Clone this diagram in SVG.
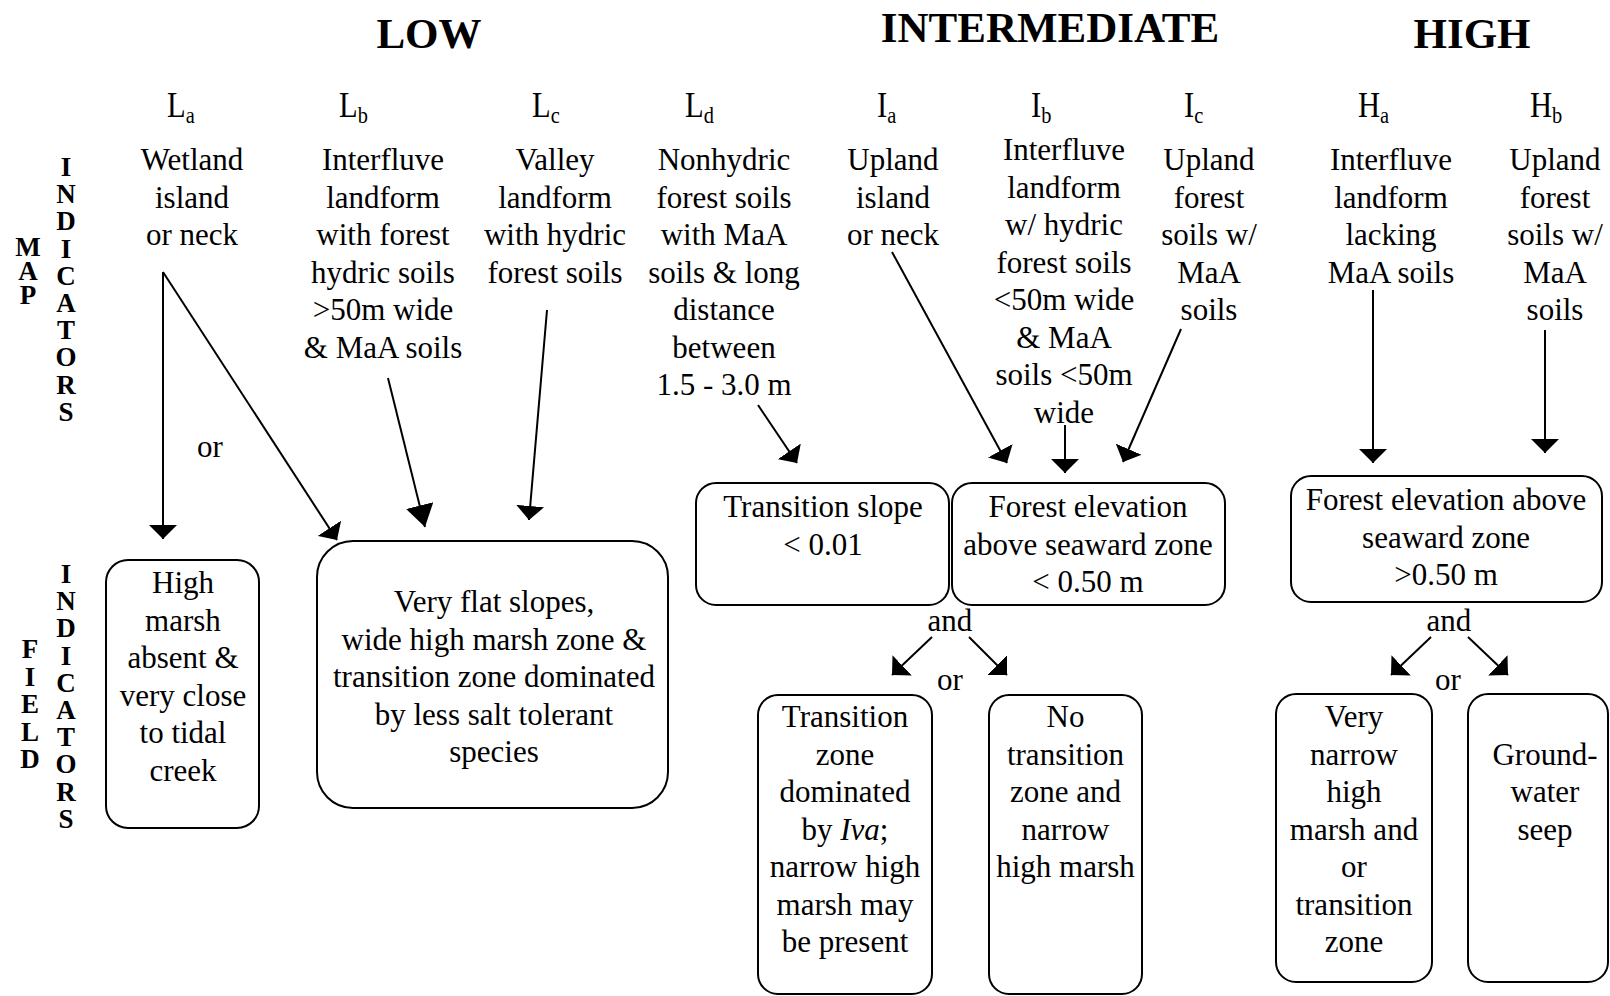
<svg xmlns="http://www.w3.org/2000/svg" width="1610" height="996" viewBox="0 0 1610 996">
  <style>
    text { font-family: "Liberation Serif", "Times New Roman", serif; fill: #000; }
    .t { font-family: "Liberation Serif", "Times New Roman", serif; font-size: 31px; text-anchor: middle; }
    .h { font-size: 43px; font-weight: bold; text-anchor: middle; }
    .v { font-size: 27px; font-weight: bold; text-anchor: middle; }
    .lab { font-size: 36px; }
    .sub { font-size: 24px; }
    .box { fill: #fff; stroke: #000; stroke-width: 2; }
    #connectors line { stroke: #000; stroke-width: 2; fill: none; }
    .a { marker-end: url(#ah); }
    .aL { marker-end: url(#ahL); }
  </style>
  <defs>
    <marker id="ah" markerUnits="userSpaceOnUse" viewBox="0 0 14 28" refX="14" refY="14" markerWidth="14" markerHeight="28" orient="auto">
      <path d="M0,0 L14,14 L0,28 Z" fill="#000"/>
    </marker>
    <marker id="ahL" markerUnits="userSpaceOnUse" viewBox="0 0 22 28" refX="22" refY="14" markerWidth="22" markerHeight="28" orient="auto">
      <path d="M0,0 L22,14 L0,28 Z" fill="#000"/>
    </marker>
  </defs>

  <rect width="1610" height="996" fill="#fff"/>

  <!-- zone headings -->
  <g id="headings">
    <text class="h" x="429" y="48">LOW</text>
    <text class="h" x="1050" y="42">INTERMEDIATE</text>
    <text class="h" x="1472" y="48">HIGH</text>
  </g>

  <!-- side captions, one letter per line -->
  <g id="side-map">
    <text class="v"><tspan x="28" y="256">M</tspan><tspan x="28" y="280">A</tspan><tspan x="28" y="304">P</tspan></text>
    <text class="v"><tspan x="66" y="176">I</tspan><tspan x="66" y="203.2">N</tspan><tspan x="66" y="230.4">D</tspan><tspan x="66" y="257.6">I</tspan><tspan x="66" y="284.8">C</tspan><tspan x="66" y="312">A</tspan><tspan x="66" y="339.2">T</tspan><tspan x="66" y="366.4">O</tspan><tspan x="66" y="393.6">R</tspan><tspan x="66" y="420.8">S</tspan></text>
  </g>
  <g id="side-field">
    <text class="v"><tspan x="30" y="658">F</tspan><tspan x="30" y="685.5">I</tspan><tspan x="30" y="713">E</tspan><tspan x="30" y="740.5">L</tspan><tspan x="30" y="768">D</tspan></text>
    <text class="v"><tspan x="66" y="583">I</tspan><tspan x="66" y="610.2">N</tspan><tspan x="66" y="637.4">D</tspan><tspan x="66" y="664.6">I</tspan><tspan x="66" y="691.8">C</tspan><tspan x="66" y="719">A</tspan><tspan x="66" y="746.2">T</tspan><tspan x="66" y="773.4">O</tspan><tspan x="66" y="800.6">R</tspan><tspan x="66" y="827.8">S</tspan></text>
  </g>

  <!-- map indicator columns -->
  <g id="La">
    <text class="lab" transform="translate(167,117) scale(0.85,1)">L<tspan class="sub" dy="6">a</tspan></text>
    <text class="t"><tspan x="192" y="170">Wetland</tspan><tspan x="192" y="207.5">island</tspan><tspan x="192" y="245">or neck</tspan></text>
  </g>
  <g id="Lb">
    <text class="lab" transform="translate(339,117) scale(0.85,1)">L<tspan class="sub" dy="6">b</tspan></text>
    <text class="t"><tspan x="383" y="170">Interfluve</tspan><tspan x="383" y="207.5">landform</tspan><tspan x="383" y="245">with forest</tspan><tspan x="383" y="282.5">hydric soils</tspan><tspan x="383" y="320">&gt;50m wide</tspan><tspan x="383" y="357.5">&amp; MaA soils</tspan></text>
  </g>
  <g id="Lc">
    <text class="lab" transform="translate(532,117) scale(0.85,1)">L<tspan class="sub" dy="6">c</tspan></text>
    <text class="t"><tspan x="555" y="170">Valley</tspan><tspan x="555" y="207.5">landform</tspan><tspan x="555" y="245">with hydric</tspan><tspan x="555" y="282.5">forest soils</tspan></text>
  </g>
  <g id="Ld">
    <text class="lab" transform="translate(685,117) scale(0.85,1)">L<tspan class="sub" dy="6">d</tspan></text>
    <text class="t"><tspan x="724" y="170">Nonhydric</tspan><tspan x="724" y="207.5">forest soils</tspan><tspan x="724" y="245">with MaA</tspan><tspan x="724" y="282.5">soils &amp; long</tspan><tspan x="724" y="320">distance</tspan><tspan x="724" y="357.5">between</tspan><tspan x="724" y="395">1.5 - 3.0 m</tspan></text>
  </g>
  <g id="Ia">
    <text class="lab" transform="translate(877,117) scale(0.85,1)">I<tspan class="sub" dy="6">a</tspan></text>
    <text class="t"><tspan x="893" y="170">Upland</tspan><tspan x="893" y="207.5">island</tspan><tspan x="893" y="245">or neck</tspan></text>
  </g>
  <g id="Ib">
    <text class="lab" transform="translate(1031,117) scale(0.85,1)">I<tspan class="sub" dy="6">b</tspan></text>
    <text class="t"><tspan x="1064" y="160">Interfluve</tspan><tspan x="1064" y="197.5">landform</tspan><tspan x="1064" y="235">w/ hydric</tspan><tspan x="1064" y="272.5">forest soils</tspan><tspan x="1064" y="310">&lt;50m wide</tspan><tspan x="1064" y="347.5">&amp; MaA</tspan><tspan x="1064" y="385">soils &lt;50m</tspan><tspan x="1064" y="422.5">wide</tspan></text>
  </g>
  <g id="Ic">
    <text class="lab" transform="translate(1184,117) scale(0.85,1)">I<tspan class="sub" dy="6">c</tspan></text>
    <text class="t"><tspan x="1209" y="170">Upland</tspan><tspan x="1209" y="207.5">forest</tspan><tspan x="1209" y="245">soils w/</tspan><tspan x="1209" y="282.5">MaA</tspan><tspan x="1209" y="320">soils</tspan></text>
  </g>
  <g id="Ha">
    <text class="lab" transform="translate(1358,117) scale(0.85,1)">H<tspan class="sub" dy="6">a</tspan></text>
    <text class="t"><tspan x="1391" y="170">Interfluve</tspan><tspan x="1391" y="207.5">landform</tspan><tspan x="1391" y="245">lacking</tspan><tspan x="1391" y="282.5">MaA soils</tspan></text>
  </g>
  <g id="Hb">
    <text class="lab" transform="translate(1530,117) scale(0.85,1)">H<tspan class="sub" dy="6">b</tspan></text>
    <text class="t"><tspan x="1555" y="170">Upland</tspan><tspan x="1555" y="207.5">forest</tspan><tspan x="1555" y="245">soils w/</tspan><tspan x="1555" y="282.5">MaA</tspan><tspan x="1555" y="320">soils</tspan></text>
  </g>

  <!-- connectors -->
  <g id="connectors">
    <line class="a" x1="163" y1="272" x2="163" y2="539"/>
    <line class="a" x1="163" y1="272" x2="337" y2="540"/>
    <line class="aL" x1="388" y1="378" x2="425" y2="527"/>
    <line class="a" x1="547" y1="310" x2="529" y2="520"/>
    <line class="a" x1="758" y1="405" x2="797" y2="463"/>
    <line class="a" x1="892" y1="252" x2="1007" y2="463"/>
    <line class="a" x1="1065" y1="425" x2="1065" y2="473"/>
    <line class="a" x1="1181" y1="329" x2="1123" y2="462"/>
    <line class="a" x1="1373" y1="290" x2="1373" y2="463"/>
    <line class="a" x1="1545" y1="330" x2="1545" y2="453"/>
    <line class="a" x1="932" y1="637" x2="892" y2="675"/>
    <line class="a" x1="969" y1="637" x2="1007" y2="675"/>
    <line class="a" x1="1431" y1="637" x2="1391" y2="675"/>
    <line class="a" x1="1468" y1="637" x2="1508" y2="675"/>
    <text class="t" x="210" y="457">or</text>
    <text class="t" x="950" y="631">and</text>
    <text class="t" x="950" y="690">or</text>
    <text class="t" x="1449" y="631">and</text>
    <text class="t" x="1448" y="690">or</text>
  </g>

  <!-- field indicator boxes -->
  <g id="high-marsh-absent">
    <rect class="box" x="106" y="560" width="153" height="268" rx="22"/>
    <text class="t"><tspan x="183" y="593">High</tspan><tspan x="183" y="630.5">marsh</tspan><tspan x="183" y="668">absent &amp;</tspan><tspan x="183" y="705.5">very close</tspan><tspan x="183" y="743">to tidal</tspan><tspan x="183" y="780.5">creek</tspan></text>
  </g>
  <g id="very-flat-slopes">
    <rect class="box" x="317" y="541" width="351" height="267" rx="36"/>
    <text class="t"><tspan x="494" y="612">Very flat slopes,</tspan><tspan x="494" y="649.5">wide high marsh zone &amp;</tspan><tspan x="494" y="687">transition zone dominated</tspan><tspan x="494" y="724.5">by less salt tolerant</tspan><tspan x="494" y="762">species</tspan></text>
  </g>
  <g id="transition-slope">
    <rect class="box" x="696" y="483" width="253" height="122" rx="20"/>
    <text class="t"><tspan x="823" y="517">Transition slope</tspan><tspan x="823" y="554.5">&lt; 0.01</tspan></text>
  </g>
  <g id="forest-elevation-low">
    <rect class="box" x="952" y="483" width="273" height="122" rx="20"/>
    <text class="t"><tspan x="1088" y="517">Forest elevation</tspan><tspan x="1088" y="554.5">above seaward zone</tspan><tspan x="1088" y="592">&lt; 0.50 m</tspan></text>
  </g>
  <g id="iva-zone">
    <rect class="box" x="758" y="695" width="174" height="299" rx="20"/>
    <text class="t"><tspan x="845" y="727">Transition</tspan><tspan x="845" y="764.5">zone</tspan><tspan x="845" y="802">dominated</tspan><tspan x="845" y="839.5">by <tspan font-style="italic">Iva</tspan>;</tspan><tspan x="845" y="877">narrow high</tspan><tspan x="845" y="914.5">marsh may</tspan><tspan x="845" y="952">be present</tspan></text>
  </g>
  <g id="no-transition">
    <rect class="box" x="989" y="695" width="153" height="299" rx="20"/>
    <text class="t"><tspan x="1065.5" y="727">No</tspan><tspan x="1065.5" y="764.5">transition</tspan><tspan x="1065.5" y="802">zone and</tspan><tspan x="1065.5" y="839.5">narrow</tspan><tspan x="1065.5" y="877">high marsh</tspan></text>
  </g>
  <g id="forest-elevation-high">
    <rect class="box" x="1291" y="476" width="311" height="126" rx="20"/>
    <text class="t"><tspan x="1446" y="510">Forest elevation above</tspan><tspan x="1446" y="547.5">seaward zone</tspan><tspan x="1446" y="585">&gt;0.50 m</tspan></text>
  </g>
  <g id="very-narrow">
    <rect class="box" x="1276" y="694" width="156" height="288" rx="20"/>
    <text class="t"><tspan x="1354" y="727">Very</tspan><tspan x="1354" y="764.5">narrow</tspan><tspan x="1354" y="802">high</tspan><tspan x="1354" y="839.5">marsh and</tspan><tspan x="1354" y="877">or</tspan><tspan x="1354" y="914.5">transition</tspan><tspan x="1354" y="952">zone</tspan></text>
  </g>
  <g id="groundwater-seep">
    <rect class="box" x="1468" y="694" width="140" height="288" rx="20"/>
    <text class="t"><tspan x="1545" y="764.5">Ground-</tspan><tspan x="1545" y="802">water</tspan><tspan x="1545" y="839.5">seep</tspan></text>
  </g>
</svg>
